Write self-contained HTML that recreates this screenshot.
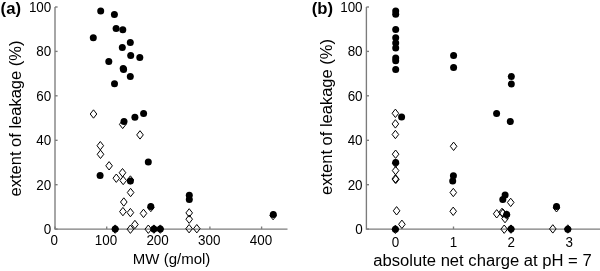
<!DOCTYPE html><html><head><meta charset="utf-8"><style>
html,body{margin:0;padding:0;background:#fff;width:600px;height:271px;overflow:hidden}
svg{display:block;font-family:"Liberation Sans", sans-serif;will-change:transform}
</style></head><body>
<svg width="600" height="271" viewBox="0 0 600 271">
<g stroke="#7c7c7c" stroke-width="1.35" fill="none">
<path d="M55.0 7.0V229.1H287.5"/>
<path d="M55.0 229.1h2.6"/>
<path d="M55.0 184.7h2.6"/>
<path d="M55.0 140.3h2.6"/>
<path d="M55.0 95.8h2.6"/>
<path d="M55.0 51.4h2.6"/>
<path d="M55.0 7.0h2.6"/>
<path d="M55.0 229.1v-2.6"/>
<path d="M106.7 229.1v-2.6"/>
<path d="M158.3 229.1v-2.6"/>
<path d="M209.9 229.1v-2.6"/>
<path d="M261.6 229.1v-2.6"/>
</g>
<g stroke="#7c7c7c" stroke-width="1.35" fill="none">
<path d="M366.4 7.0V229.1H600.0"/>
<path d="M366.4 229.1h2.6"/>
<path d="M366.4 184.7h2.6"/>
<path d="M366.4 140.3h2.6"/>
<path d="M366.4 95.8h2.6"/>
<path d="M366.4 51.4h2.6"/>
<path d="M366.4 7.0h2.6"/>
<path d="M395.6 229.1v-2.6"/>
<path d="M453.5 229.1v-2.6"/>
<path d="M511.3 229.1v-2.6"/>
<path d="M569.2 229.1v-2.6"/>
</g>
<g font-size="14" text-anchor="end" fill="#000">
<text x="51.3" y="233.9" textLength="7.47" lengthAdjust="spacingAndGlyphs">0</text>
<text x="51.3" y="189.5" textLength="14.95" lengthAdjust="spacingAndGlyphs">20</text>
<text x="51.3" y="145.1" textLength="14.95" lengthAdjust="spacingAndGlyphs">40</text>
<text x="51.3" y="100.6" textLength="14.95" lengthAdjust="spacingAndGlyphs">60</text>
<text x="51.3" y="56.2" textLength="14.95" lengthAdjust="spacingAndGlyphs">80</text>
<text x="51.3" y="11.8" textLength="22.42" lengthAdjust="spacingAndGlyphs">100</text>
</g>
<g font-size="14" text-anchor="end" fill="#000">
<text x="362.6" y="233.9" textLength="7.47" lengthAdjust="spacingAndGlyphs">0</text>
<text x="362.6" y="189.5" textLength="14.95" lengthAdjust="spacingAndGlyphs">20</text>
<text x="362.6" y="145.1" textLength="14.95" lengthAdjust="spacingAndGlyphs">40</text>
<text x="362.6" y="100.6" textLength="14.95" lengthAdjust="spacingAndGlyphs">60</text>
<text x="362.6" y="56.2" textLength="14.95" lengthAdjust="spacingAndGlyphs">80</text>
<text x="362.6" y="11.8" textLength="22.42" lengthAdjust="spacingAndGlyphs">100</text>
</g>
<g font-size="14" text-anchor="middle" fill="#000">
<text x="54.3" y="245.3" textLength="7.47" lengthAdjust="spacingAndGlyphs">0</text>
<text x="106.0" y="245.3" textLength="22.42" lengthAdjust="spacingAndGlyphs">100</text>
<text x="157.6" y="245.3" textLength="22.42" lengthAdjust="spacingAndGlyphs">200</text>
<text x="209.2" y="245.3" textLength="22.42" lengthAdjust="spacingAndGlyphs">300</text>
<text x="260.9" y="245.3" textLength="22.42" lengthAdjust="spacingAndGlyphs">400</text>
</g>
<g font-size="14" text-anchor="middle" fill="#000">
<text x="395.6" y="247.1" textLength="7.47" lengthAdjust="spacingAndGlyphs">0</text>
<text x="453.5" y="247.1" textLength="7.47" lengthAdjust="spacingAndGlyphs">1</text>
<text x="511.3" y="247.1" textLength="7.47" lengthAdjust="spacingAndGlyphs">2</text>
<text x="569.2" y="247.1" textLength="7.47" lengthAdjust="spacingAndGlyphs">3</text>
</g>
<text x="171.6" y="264.2" font-size="15" text-anchor="middle">MW (g/mol)</text>
<text x="373.2" y="265.8" font-size="15.8" textLength="218.5" lengthAdjust="spacingAndGlyphs">absolute net charge at pH = 7</text>
<text transform="translate(21.0 118.5) rotate(-90)" font-size="16.5" text-anchor="middle">extent of leakage (%)</text>
<text transform="translate(331.9 117) rotate(-90)" font-size="16.5" text-anchor="middle">extent of leakage (%)</text>
<text x="0.6" y="13.6" font-size="16.7" font-weight="bold">(a)</text>
<text x="311.7" y="13.6" font-size="16.7" font-weight="bold">(b)</text>
<g fill="none" stroke="#000" stroke-width="1">
<path d="M93.5 109.8L96.8 114.0L93.5 118.2L90.2 114.0Z"/>
<path d="M122.7 120.2L126.0 124.4L122.7 128.6L119.4 124.4Z"/>
<path d="M140.0 130.7L143.3 134.9L140.0 139.1L136.7 134.9Z"/>
<path d="M100.3 141.5L103.6 145.7L100.3 149.9L97.0 145.7Z"/>
<path d="M100.5 150.1L103.8 154.3L100.5 158.5L97.2 154.3Z"/>
<path d="M109.1 161.6L112.4 165.8L109.1 170.0L105.8 165.8Z"/>
<path d="M122.5 168.5L125.8 172.7L122.5 176.9L119.2 172.7Z"/>
<path d="M116.3 174.0L119.6 178.2L116.3 182.4L113.0 178.2Z"/>
<path d="M123.2 176.3L126.5 180.5L123.2 184.7L119.9 180.5Z"/>
<path d="M130.4 175.8L133.7 180.0L130.4 184.2L127.1 180.0Z"/>
<path d="M130.6 188.3L133.9 192.5L130.6 196.7L127.3 192.5Z"/>
<path d="M123.8 197.8L127.1 202.0L123.8 206.2L120.5 202.0Z"/>
<path d="M122.9 207.4L126.2 211.6L122.9 215.8L119.6 211.6Z"/>
<path d="M130.4 208.4L133.7 212.6L130.4 216.8L127.1 212.6Z"/>
<path d="M143.5 209.2L146.8 213.4L143.5 217.6L140.2 213.4Z"/>
<path d="M150.8 203.3L154.1 207.5L150.8 211.7L147.5 207.5Z"/>
<path d="M134.9 220.3L138.2 224.5L134.9 228.7L131.6 224.5Z"/>
<path d="M130.4 225.0L133.7 229.2L130.4 233.4L127.1 229.2Z"/>
<path d="M148.3 225.0L151.6 229.2L148.3 233.4L145.0 229.2Z"/>
<path d="M189.2 208.7L192.5 212.9L189.2 217.1L185.9 212.9Z"/>
<path d="M189.2 215.0L192.5 219.2L189.2 223.4L185.9 219.2Z"/>
<path d="M189.1 224.5L192.4 228.7L189.1 232.9L185.8 228.7Z"/>
<path d="M196.8 224.5L200.1 228.7L196.8 232.9L193.5 228.7Z"/>
<path d="M273.1 211.4L276.4 215.6L273.1 219.8L269.8 215.6Z"/>
<path d="M115.2 224.9L118.5 229.1L115.2 233.3L111.9 229.1Z"/>
<path d="M153.9 224.9L157.2 229.1L153.9 233.3L150.6 229.1Z"/>
<path d="M160.3 224.9L163.6 229.1L160.3 233.3L157.0 229.1Z"/>
<path d="M395.4 109.1L398.7 113.3L395.4 117.5L392.1 113.3Z"/>
<path d="M395.4 119.7L398.7 123.9L395.4 128.1L392.1 123.9Z"/>
<path d="M395.4 130.3L398.7 134.5L395.4 138.7L392.1 134.5Z"/>
<path d="M395.6 150.0L398.9 154.2L395.6 158.4L392.3 154.2Z"/>
<path d="M395.6 159.0L398.9 163.2L395.6 167.4L392.3 163.2Z"/>
<path d="M395.6 166.4L398.9 170.6L395.6 174.8L392.3 170.6Z"/>
<path d="M395.3 174.8L398.6 179.0L395.3 183.2L392.0 179.0Z"/>
<path d="M395.9 175.1L399.2 179.3L395.9 183.5L392.6 179.3Z"/>
<path d="M396.6 206.6L399.9 210.8L396.6 215.0L393.3 210.8Z"/>
<path d="M401.9 220.1L405.2 224.3L401.9 228.5L398.6 224.3Z"/>
<path d="M395.4 225.1L398.7 229.3L395.4 233.5L392.1 229.3Z"/>
<path d="M453.6 142.1L456.9 146.3L453.6 150.5L450.3 146.3Z"/>
<path d="M453.3 188.3L456.6 192.5L453.3 196.7L450.0 192.5Z"/>
<path d="M453.2 207.1L456.5 211.3L453.2 215.5L449.9 211.3Z"/>
<path d="M510.7 198.2L514.0 202.4L510.7 206.6L507.4 202.4Z"/>
<path d="M496.7 209.6L500.0 213.8L496.7 218.0L493.4 213.8Z"/>
<path d="M502.0 208.2L505.3 212.4L502.0 216.6L498.7 212.4Z"/>
<path d="M503.0 209.0L506.3 213.2L503.0 217.4L499.7 213.2Z"/>
<path d="M505.0 214.4L508.3 218.6L505.0 222.8L501.7 218.6Z"/>
<path d="M504.2 225.0L507.5 229.2L504.2 233.4L500.9 229.2Z"/>
<path d="M506.7 210.8L510.0 215.0L506.7 219.2L503.4 215.0Z"/>
<path d="M511.0 224.9L514.3 229.1L511.0 233.3L507.7 229.1Z"/>
<path d="M567.8 224.8L571.1 229.0L567.8 233.2L564.5 229.0Z"/>
<path d="M556.5 203.6L559.8 207.8L556.5 212.0L553.2 207.8Z"/>
<path d="M552.8 224.7L556.1 228.9L552.8 233.1L549.5 228.9Z"/>
</g>
<g fill="#000">
<circle cx="100.7" cy="11.0" r="3.5"/>
<circle cx="114.4" cy="14.4" r="3.5"/>
<circle cx="116.1" cy="28.4" r="3.5"/>
<circle cx="122.8" cy="29.7" r="3.5"/>
<circle cx="93.3" cy="37.7" r="3.5"/>
<circle cx="130.3" cy="42.5" r="3.5"/>
<circle cx="122.3" cy="47.6" r="3.5"/>
<circle cx="130.7" cy="55.6" r="3.5"/>
<circle cx="139.8" cy="57.6" r="3.5"/>
<circle cx="108.8" cy="61.5" r="3.5"/>
<circle cx="123.2" cy="68.4" r="3.5"/>
<circle cx="123.6" cy="69.4" r="3.5"/>
<circle cx="130.3" cy="76.6" r="3.5"/>
<circle cx="114.5" cy="83.8" r="3.5"/>
<circle cx="124.0" cy="121.5" r="3.5"/>
<circle cx="134.9" cy="117.2" r="3.5"/>
<circle cx="143.6" cy="113.5" r="3.5"/>
<circle cx="148.3" cy="162.1" r="3.5"/>
<circle cx="100.1" cy="175.5" r="3.5"/>
<circle cx="130.4" cy="181.0" r="3.5"/>
<circle cx="150.8" cy="206.5" r="3.5"/>
<circle cx="115.2" cy="229.1" r="3.5"/>
<circle cx="153.9" cy="229.1" r="3.5"/>
<circle cx="160.3" cy="229.1" r="3.5"/>
<circle cx="189.3" cy="195.3" r="3.5"/>
<circle cx="189.3" cy="199.4" r="3.5"/>
<circle cx="273.3" cy="214.5" r="3.5"/>
<circle cx="395.7" cy="10.9" r="3.5"/>
<circle cx="395.7" cy="14.2" r="3.5"/>
<circle cx="395.7" cy="29.4" r="3.5"/>
<circle cx="395.7" cy="37.7" r="3.5"/>
<circle cx="395.7" cy="42.9" r="3.5"/>
<circle cx="395.7" cy="48.0" r="3.5"/>
<circle cx="395.7" cy="58.1" r="3.5"/>
<circle cx="395.7" cy="60.7" r="3.5"/>
<circle cx="395.7" cy="69.5" r="3.5"/>
<circle cx="401.6" cy="117.0" r="3.5"/>
<circle cx="395.7" cy="162.6" r="3.5"/>
<circle cx="395.4" cy="229.3" r="3.5"/>
<circle cx="453.6" cy="55.4" r="3.5"/>
<circle cx="453.6" cy="67.6" r="3.5"/>
<circle cx="453.4" cy="175.8" r="3.5"/>
<circle cx="452.7" cy="181.1" r="3.5"/>
<circle cx="511.3" cy="76.5" r="3.5"/>
<circle cx="511.3" cy="84.0" r="3.5"/>
<circle cx="496.6" cy="113.5" r="3.5"/>
<circle cx="510.3" cy="121.5" r="3.5"/>
<circle cx="505.1" cy="195.0" r="3.5"/>
<circle cx="502.8" cy="199.4" r="3.5"/>
<circle cx="506.7" cy="214.4" r="3.5"/>
<circle cx="511.0" cy="229.1" r="3.5"/>
<circle cx="556.5" cy="206.4" r="3.5"/>
<circle cx="567.8" cy="229.2" r="3.5"/>
</g>
</svg></body></html>
